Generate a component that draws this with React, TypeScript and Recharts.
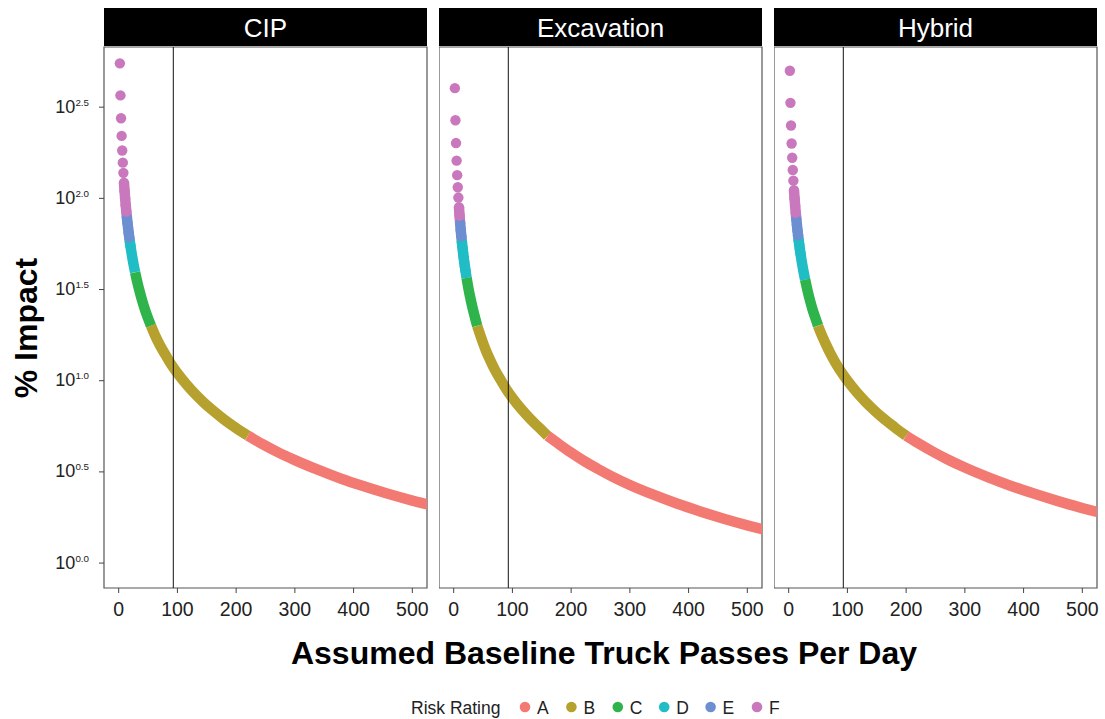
import React from 'react';
import { ComposedChart, Line, Scatter, XAxis, YAxis, ReferenceLine, ReferenceArea } from 'recharts';

// baseline truck passes per day (x) sampled along the curves
const passes = [2, 3, 4, 5, 6, 7, 8, 9, 10, 11, 12, 13, 14, 15, 16, 17, 18, 19, 20, 22, 25, 28, 32, 36, 40, 45, 50, 55, 62, 70, 80, 90, 100, 115, 130, 145, 160, 180, 200, 220, 245, 270, 300, 340, 380, 420, 460, 500, 530];

// % impact
const cipImpact = [550, 367, 275, 220, 183, 157, 138, 122, 110, 100, 91.7, 84.6, 78.6, 73.3, 68.8, 64.7, 61.1, 57.9, 55.0, 50.0, 44.0, 39.3, 34.4, 30.6, 27.5, 24.4, 22.0, 20.0, 17.7, 15.7, 13.8, 12.2, 11.0, 9.57, 8.46, 7.59, 6.88, 6.11, 5.50, 5.00, 4.49, 4.07, 3.67, 3.24, 2.89, 2.62, 2.39, 2.20, 2.08];
const excavationImpact = [402, 268, 201, 161, 134, 115, 101, 89.4, 80.5, 73.2, 67.1, 61.9, 57.5, 53.7, 50.3, 47.4, 44.7, 42.4, 40.3, 36.6, 32.2, 28.8, 25.2, 22.4, 20.0, 17.9, 16.1, 14.6, 13.0, 11.5, 10.1, 8.94, 8.05, 7.00, 6.19, 5.55, 4.98, 4.47, 4.03, 3.66, 3.29, 2.98, 2.68, 2.37, 2.12, 1.92, 1.75, 1.61, 1.52];
const hybridImpact = [501, 334, 251, 200, 167, 143, 125, 111, 100, 91.1, 83.5, 77.1, 71.6, 66.8, 62.6, 58.9, 55.7, 52.7, 50.1, 45.5, 40.1, 35.8, 31.3, 27.8, 25.0, 22.3, 20.0, 18.2, 16.2, 14.3, 12.5, 11.1, 10.0, 8.71, 7.71, 6.91, 6.26, 5.57, 4.99, 4.55, 4.09, 3.71, 3.34, 2.95, 2.64, 2.39, 2.18, 2.00, 1.89];

const panelNames = ['CIP', 'Excavation', 'Hybrid'];
const panelImpacts = [cipImpact, excavationImpact, hybridImpact];

const ratings = ['A', 'B', 'C', 'D', 'E', 'F'];
const ratingFloors = [0, 5, 20, 40, 60, 80];
const ratingColors = ['#F27A72', '#B6A12F', '#2EB44B', '#21BDC7', '#6C8FD2', '#CA78BD'];

const baselineMarker = 93;
const xTicks = [0, 100, 200, 300, 400, 500];
const yTicks = [1, 3.1623, 10, 31.623, 100, 316.23];

const FONT = '"Liberation Sans", Arial, Helvetica, sans-serif';
const X_DOMAIN = [-25, 525];
const Y_DOMAIN = [0.73, 676];
const PLOT_W = 323;
const RIGHT_PAD = 8;
const panelLefts = [104, 439, 774];

const rateOf = (v: number) => {
  let r = 0;
  ratingFloors.forEach((f, i) => { if (v > f) r = i; });
  return ratings[r];
};

const buildRows = (impact: number[]) =>
  passes.map((x, i) => ({ x, v: impact[i], rating: rateOf(impact[i]) }));

// one column per rating so each band gets its own colour; a band runs on to the
// first point of the next band so the stroke has no gap
const buildLineRows = (impact: number[]) => {
  const rows = buildRows(impact).filter((r) => r.x >= 9);
  return rows.map((r, i) => {
    const out: any = { x: r.x };
    ratings.forEach((k) => {
      const prev = i > 0 ? rows[i - 1].rating : null;
      out[k] = r.rating === k || prev === k ? r.v : null;
    });
    return out;
  });
};

const PowerTick = (props: any) => {
  const { x, y, payload } = props;
  const exp = Math.log10(payload.value).toFixed(1);
  return (
    <text x={x} y={y} textAnchor="end" fill="#222" fontFamily={FONT}>
      <tspan fontSize={18} dy={5.5}>10</tspan>
      <tspan fontSize={9.8} dy={-7}>{exp}</tspan>
    </text>
  );
};

const Panel = ({ index }: { index: number }) => {
  const impact = panelImpacts[index];
  const rows = buildRows(impact);
  const lineRows = buildLineRows(impact);
  const showY = index === 0;
  const yWidth = 64;
  const left = showY ? panelLefts[index] - yWidth : panelLefts[index];
  const width = (showY ? PLOT_W + yWidth : PLOT_W) + RIGHT_PAD;

  return (
    <div style={{ position: 'absolute', left, top: 0 }}>
      <ComposedChart width={width} height={628} data={lineRows} margin={{ top: 47, right: RIGHT_PAD, bottom: 0, left: 0 }}>
        <XAxis
          dataKey="x"
          type="number"
          domain={X_DOMAIN}
          ticks={xTicks}
          allowDataOverflow
          height={40}
          axisLine={false}
          tickSize={5}
          tickMargin={9}
          tickLine={{ stroke: '#444' }}
          tick={{ fill: '#222', fontSize: 19.5, fontFamily: FONT }}
        />
        <YAxis
          type="number"
          scale="log"
          domain={Y_DOMAIN}
          ticks={yTicks}
          allowDataOverflow
          hide={!showY}
          width={yWidth}
          axisLine={false}
          tickSize={5}
          tickMargin={10}
          tickLine={{ stroke: '#444' }}
          tick={<PowerTick />}
        />
        {ratings.slice().reverse().map((k) => (
          <Line
            key={k}
            type="monotone"
            dataKey={k}
            stroke={ratingColors[ratings.indexOf(k)]}
            strokeWidth={10.5}
            strokeLinejoin="round"
            dot={false}
            activeDot={false}
            connectNulls={false}
            isAnimationActive={false}
          />
        ))}
        {ratings.map((k, i) => (
          <Scatter
            key={'s' + k}
            data={rows.filter((r) => r.x <= 20 && r.rating === k)}
            dataKey="v"
            isAnimationActive={false}
            shape={(p: any) => <circle cx={p.cx} cy={p.cy} r={5.2} fill={ratingColors[i]} />}
          />
        ))}
        <ReferenceLine x={baselineMarker} stroke="#111" strokeWidth={1} />
        <ReferenceArea x1={X_DOMAIN[0]} x2={X_DOMAIN[1]} y1={Y_DOMAIN[0]} y2={Y_DOMAIN[1]} fill="none" fillOpacity={0} stroke="#555" strokeWidth={1.2} ifOverflow="visible" />
      </ComposedChart>
    </div>
  );
};

export default function App() {
  return (
    <div style={{ position: 'absolute', left: 0, top: 0, width: 1105, height: 719, background: '#fff', fontFamily: FONT, overflow: 'hidden' }}>
      {panelNames.map((_, i) => <Panel key={i} index={i} />)}
      <svg width={1105} height={719} style={{ position: 'absolute', left: 0, top: 0, pointerEvents: 'none' }}>
        {panelNames.map((name, i) => (
          <g key={name}>
            <rect x={panelLefts[i]} y={8} width={PLOT_W} height={38} fill="#000" />
            <text x={panelLefts[i] + PLOT_W / 2} y={36.5} textAnchor="middle" fill="#fff" fontSize={26} fontFamily={FONT}>{name}</text>
          </g>
        ))}
        <text x={604} y={663.5} textAnchor="middle" fontSize={32} fontWeight="bold" fill="#000" fontFamily={FONT}>
          Assumed Baseline Truck Passes Per Day
        </text>
        <text transform="translate(37,328) rotate(-90)" textAnchor="middle" fontSize={32} fontWeight="bold" fill="#000" fontFamily={FONT}>
          % Impact
        </text>
        <text x={411} y={713.5} fontSize={17.5} fill="#222" fontFamily={FONT}>Risk Rating</text>
        {ratings.map((k, i) => (
          <g key={k}>
            <circle cx={525 + i * 46.4} cy={707} r={5.3} fill={ratingColors[i]} />
            <text x={537 + i * 46.4} y={713.5} fontSize={17.5} fill="#222" fontFamily={FONT}>{k}</text>
          </g>
        ))}
      </svg>
    </div>
  );
}
